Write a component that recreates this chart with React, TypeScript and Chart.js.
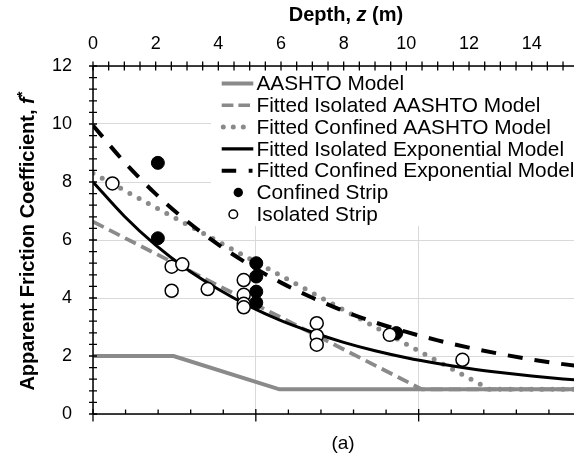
import React, { useEffect, useRef } from "react";
import { Chart, registerables } from "chart.js";

Chart.register(...registerables);

// ---------- data ----------
const depthKnots = [0, 1, 2, 3, 4, 5, 6, 7, 8, 9, 10, 11, 12, 13, 14, 15, 16];
const isolatedExpF = [8.0, 6.82, 5.82, 4.99, 4.3, 3.71, 3.22, 2.82, 2.47, 2.18, 1.94, 1.74, 1.57, 1.43, 1.31, 1.21, 1.13];
const confinedExpF = [9.95, 8.69, 7.59, 6.65, 5.84, 5.14, 4.53, 4.01, 3.55, 3.16, 2.83, 2.54, 2.29, 2.07, 1.88, 1.72, 1.58];

const aashtoZ = [0, 2.57, 5.95, 16];
const aashtoF = [2.0, 2.0, 0.85, 0.85];
const isoAashtoZ = [0, 10.5, 16];
const isoAashtoF = [6.63, 0.85, 0.85];
const confAashtoZ = [0, 12.65, 16];
const confAashtoF = [8.3, 0.85, 0.85];

const confinedZ = [2.07, 2.07, 5.21, 5.21, 5.21, 5.21, 9.68];
const confinedF = [8.66, 6.06, 5.2, 4.74, 4.22, 3.84, 2.79];
const isolatedZ = [0.62, 2.51, 2.85, 2.51, 3.66, 4.81, 4.81, 4.81, 4.81, 7.14, 7.14, 7.14, 9.47, 11.79];
const isolatedF = [7.95, 5.08, 5.16, 4.25, 4.31, 4.62, 4.11, 3.8, 3.68, 3.13, 2.7, 2.39, 2.73, 1.87];

const depthTicks = [0, 2, 4, 6, 8, 10, 12, 14];
const fTicks = [0, 2, 4, 6, 8, 10, 12];
const bottomGridTicks = [0, 5, 10];

const legendLabels = [
  "AASHTO Model",
  "Fitted Isolated AASHTO Model",
  "Fitted Confined AASHTO Model",
  "Fitted Isolated Exponential Model",
  "Fitted Confined Exponential Model",
  "Confined Strip",
  "Isolated Strip",
];

// ---------- styling ----------
const FONT = "'Liberation Sans', Arial, Helvetica, sans-serif";
const GRAY = "#8a8a8a";
const TEXT = "#000";

const toXY = (xs: number[], ys: number[]) => xs.map((x, i) => ({ x, y: ys[i] }));

const decorPlugin = {
  id: "decor",
  beforeDatasetsDraw(chart: any) {
    const { ctx, chartArea } = chart;
    ctx.save();
    ctx.fillStyle = "#fff";
    ctx.fillRect(211, chartArea.top + 1, chartArea.right - 211, 226 - chartArea.top - 1);
    ctx.restore();
  },
  afterDatasetsDraw(chart: any) {
    const { ctx, chartArea, scales } = chart;
    const xs = scales.x;
    const ys = scales.y;
    const xb = scales.xb;
    const L = chartArea.left, R = chartArea.right, T = chartArea.top, B = chartArea.bottom;

    ctx.save();
    // axis lines
    ctx.strokeStyle = "#000";
    ctx.lineWidth = 1.5;
    ctx.beginPath();
    ctx.moveTo(L, T); ctx.lineTo(R, T);
    ctx.moveTo(L, T); ctx.lineTo(L, B);
    ctx.moveTo(L, B); ctx.lineTo(R, B);
    ctx.stroke();

    ctx.lineWidth = 1.3;
    ctx.beginPath();
    // top depth axis: crossing ticks every 0.5
    for (let i = 0; i <= 40; i++) {
      const v = i * 0.5;
      if (v > xs.max + 1e-6) break;
      const px = xs.getPixelForValue(v);
      ctx.moveTo(px, T - 4.5); ctx.lineTo(px, T + 4.5);
    }
    // left axis: crossing ticks every 0.4
    for (let i = 0; i <= 30; i++) {
      const py = ys.getPixelForValue(i * 0.4);
      ctx.moveTo(L - 4, py); ctx.lineTo(L + 4, py);
    }
    // bottom axis
    for (let i = 0; i <= 20; i++) {
      if (i > xb.max + 1e-6) break;
      const px = xb.getPixelForValue(i);
      if (i % 5 === 0) { ctx.moveTo(px, B - 5); ctx.lineTo(px, B + 7.5); }
      else { ctx.moveTo(px, B - 4.5); ctx.lineTo(px, B); }
    }
    ctx.stroke();

    // legend
    const rowY0 = 83.5, rowH = 21.8;
    const sx0 = 221.7, sx1 = 253.3, tx = 256.5;
    const line = (y: number, color: string, w: number, dash: number[], x1 = sx1) => {
      ctx.beginPath();
      ctx.strokeStyle = color; ctx.lineWidth = w; ctx.setLineDash(dash); ctx.lineCap = "butt";
      ctx.moveTo(sx0, y); ctx.lineTo(x1, y); ctx.stroke();
      ctx.setLineDash([]);
    };
    legendLabels.forEach((label, i) => {
      const y = rowY0 + i * rowH;
      if (i === 0) line(y, GRAY, 4, []);
      if (i === 1) line(y, GRAY, 3.5, [11.7, 5], 250);
      if (i === 2) {
        ctx.beginPath(); ctx.strokeStyle = GRAY; ctx.lineWidth = 5; ctx.lineCap = "round"; ctx.setLineDash([0, 10]);
        ctx.moveTo(223.3, y); ctx.lineTo(245, y); ctx.stroke(); ctx.setLineDash([]); ctx.lineCap = "butt";
      }
      if (i === 3) line(y, "#000", 3.2, []);
      if (i === 4) line(y, "#000", 4, [14.5, 12.5], 252.5);
      if (i === 5) {
        ctx.beginPath(); ctx.fillStyle = "#000"; ctx.arc(238.3, y, 4.7, 0, Math.PI * 2); ctx.fill();
      }
      if (i === 6) {
        ctx.beginPath(); ctx.fillStyle = "#fff"; ctx.strokeStyle = "#000"; ctx.lineWidth = 1.5;
        ctx.arc(233.3, y, 4.3, 0, Math.PI * 2); ctx.fill(); ctx.stroke();
      }
      ctx.fillStyle = TEXT;
      ctx.font = `20.8px ${FONT}`;
      ctx.textAlign = "left";
      ctx.textBaseline = "middle";
      ctx.fillText(label, tx, y + 1);
    });
    ctx.restore();
  },
  afterDraw(chart: any) {
    const { ctx } = chart;
    const drawRich = (parts: { t: string; f: string; dy?: number }[], cx: number, cy: number) => {
      let total = 0;
      parts.forEach((p) => { ctx.font = p.f; total += ctx.measureText(p.t).width; });
      let x = cx - total / 2;
      parts.forEach((p) => {
        ctx.font = p.f;
        ctx.fillText(p.t, x, cy + (p.dy || 0));
        x += ctx.measureText(p.t).width;
      });
    };
    ctx.save();
    ctx.fillStyle = TEXT;
    ctx.textAlign = "left";
    ctx.textBaseline = "middle";
    const bold = `bold 20px ${FONT}`;
    const boldIt = `italic bold 20px ${FONT}`;
    drawRich([
      { t: "Depth, ", f: bold },
      { t: "z", f: boldIt },
      { t: " (m)", f: bold },
    ], 346, 15.5);

    ctx.save();
    ctx.translate(28, 241);
    ctx.rotate(-Math.PI / 2);
    drawRich([
      { t: "Apparent Friction Coefficient, ", f: bold },
      { t: "f", f: boldIt },
      { t: "*", f: `bold 15px ${FONT}`, dy: -5 },
    ], 0, 0);
    ctx.restore();

    ctx.font = `19px ${FONT}`;
    ctx.textAlign = "center";
    ctx.fillText("(a)", 343, 444);
    ctx.restore();
  },
};

export default function App() {
  const ref = useRef<HTMLCanvasElement | null>(null);

  useEffect(() => {
    if (!ref.current) return;
    const tickFont = { family: FONT, size: 18 };
    const chart = new Chart(ref.current, {
      type: "scatter",
      data: {
        datasets: [
          {
            label: "Isolated Strip",
            data: toXY(isolatedZ, isolatedF),
            showLine: false,
            pointRadius: 6.5,
            pointBackgroundColor: "#fff",
            pointBorderColor: "#000",
            pointBorderWidth: 1.5,
          },
          {
            label: "Confined Strip",
            data: toXY(confinedZ, confinedF),
            showLine: false,
            pointRadius: 6.5,
            pointBackgroundColor: "#000",
            pointBorderColor: "#000",
            pointBorderWidth: 1,
          },
          {
            label: "Fitted Confined Exponential Model",
            data: toXY(depthKnots, confinedExpF),
            showLine: true,
            pointRadius: 0,
            borderColor: "#000",
            borderWidth: 4,
            borderDash: [15, 12],
            cubicInterpolationMode: "monotone",
          },
          {
            label: "Fitted Isolated Exponential Model",
            data: toXY(depthKnots, isolatedExpF),
            showLine: true,
            pointRadius: 0,
            borderColor: "#000",
            borderWidth: 3,
            cubicInterpolationMode: "monotone",
          },
          {
            label: "Fitted Confined AASHTO Model",
            data: toXY(confAashtoZ, confAashtoF),
            showLine: true,
            pointRadius: 0,
            borderColor: GRAY,
            borderWidth: 5,
            borderDash: [0, 10.5],
            borderCapStyle: "round",
          },
          {
            label: "Fitted Isolated AASHTO Model",
            data: toXY(isoAashtoZ, isoAashtoF),
            showLine: true,
            pointRadius: 0,
            borderColor: GRAY,
            borderWidth: 3.8,
            borderDash: [12, 6],
          },
          {
            label: "AASHTO Model",
            data: toXY(aashtoZ, aashtoF),
            showLine: true,
            pointRadius: 0,
            borderColor: GRAY,
            borderWidth: 4,
          },
        ],
      } as any,
      options: {
        responsive: false,
        devicePixelRatio: 1,
        animation: false,
        events: [],
        layout: { padding: 0 },
        plugins: { legend: { display: false }, tooltip: { enabled: false }, title: { display: false } },
        scales: {
          x: {
            type: "linear",
            position: "top",
            min: 0,
            max: 15.35,
            afterBuildTicks: (s: any) => { s.ticks = depthTicks.map((v) => ({ value: v })); },
            afterFit: (s: any) => { s.height = 66; },
            ticks: { font: tickFont, color: TEXT, padding: 11, maxRotation: 0, autoSkip: false },
            grid: { display: false, drawTicks: false },
            border: { display: false },
          },
          xb: {
            type: "linear",
            position: "bottom",
            min: 0,
            max: 14.77,
            afterBuildTicks: (s: any) => { s.ticks = bottomGridTicks.map((v) => ({ value: v })); },
            afterFit: (s: any) => { s.height = 42; },
            ticks: { display: false },
            grid: { display: true, color: "#d9d9d9", lineWidth: 1, drawTicks: false },
            border: { display: false },
          },
          y: {
            type: "linear",
            position: "left",
            min: 0,
            max: 12,
            afterBuildTicks: (s: any) => { s.ticks = fTicks.map((v) => ({ value: v })); },
            afterFit: (s: any) => { s.width = 93; },
            ticks: { font: tickFont, color: TEXT, padding: 21, autoSkip: false },
            grid: { display: true, color: "#d9d9d9", lineWidth: 1, drawTicks: false },
            border: { display: false },
          },
        },
      } as any,
      plugins: [decorPlugin],
    });
    return () => chart.destroy();
  }, []);

  return (
    <div style={{ position: "fixed", left: 0, top: 0, width: 582, height: 456, overflow: "hidden", background: "#fff" }}>
      <canvas ref={ref} width={582} height={456} style={{ width: 582, height: 456, display: "block" }} />
    </div>
  );
}
